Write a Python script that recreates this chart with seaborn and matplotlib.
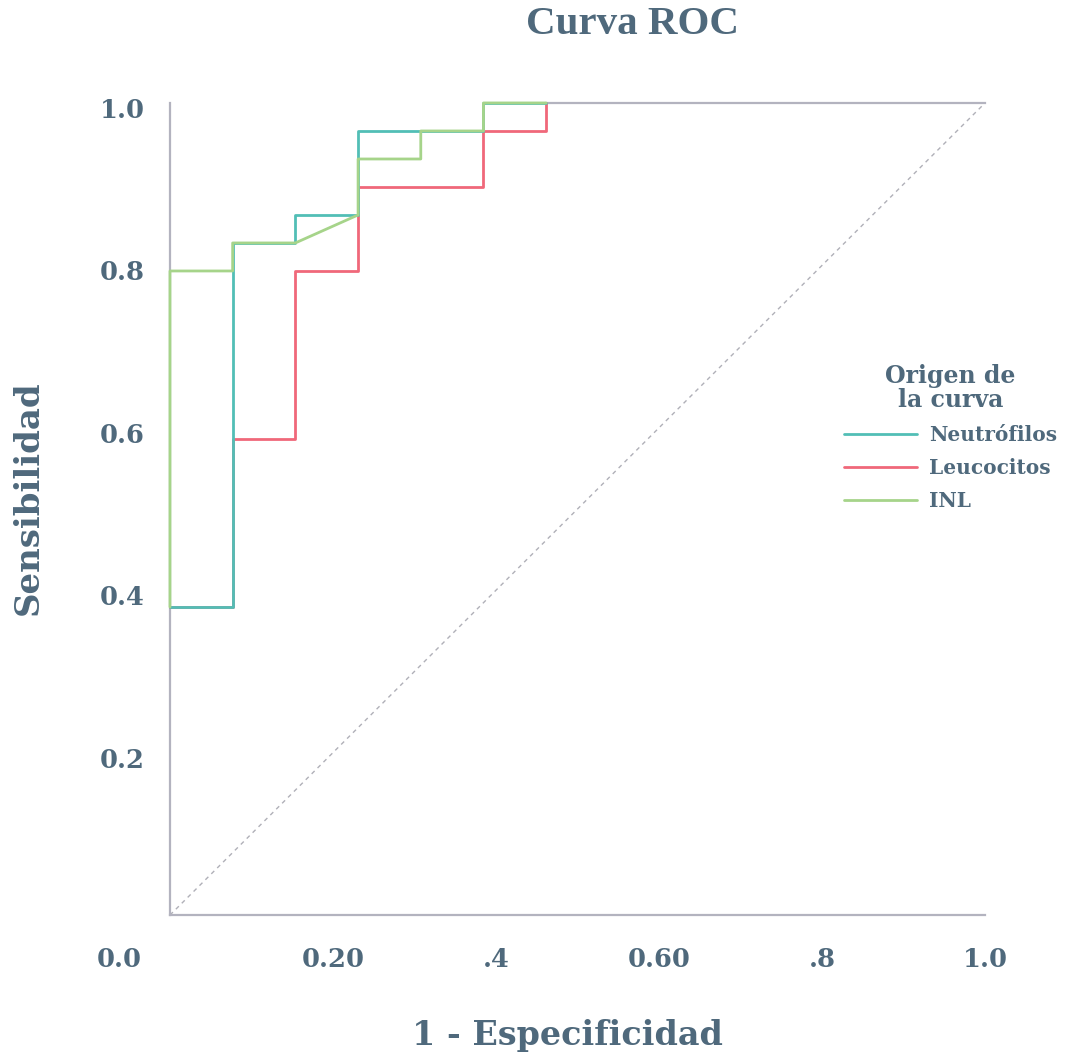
import matplotlib

matplotlib.use("Agg")

import matplotlib.pyplot as plt
import matplotlib.transforms as mtransforms
import pandas as pd
import seaborn as sns

# ROC points (13 negatives, 29 positives)
NEUT_FPR = [0.0, 0.0769, 0.0769, 0.1538, 0.1538, 0.2308, 0.2308, 0.3846, 0.3846, 0.4615]
NEUT_TPR = [0.3793, 0.3793, 0.8276, 0.8276, 0.8621, 0.8621, 0.9655, 0.9655, 1.0, 1.0]

LEUC_FPR = [0.0, 0.0769, 0.0769, 0.1538, 0.1538, 0.2308, 0.2308, 0.3846, 0.3846, 0.4615, 0.4615]
LEUC_TPR = [0.3793, 0.3793, 0.5862, 0.5862, 0.7931, 0.7931, 0.8966, 0.8966, 0.9655, 0.9655, 1.0]

INL_FPR = [0.0, 0.0, 0.0769, 0.0769, 0.1538, 0.2308, 0.2308, 0.3077, 0.3077, 0.3846, 0.3846, 0.4615]
INL_TPR = [0.3793, 0.7931, 0.7931, 0.8276, 0.8276, 0.8621, 0.931, 0.931, 0.9655, 0.9655, 1.0, 1.0]

SERIES = ["Neutrófilos", "Leucocitos", "INL"]
PALETTE = {"Neutrófilos": "#52beb6", "Leucocitos": "#f0687a", "INL": "#a6d48a"}
DRAW_ORDER = {"Leucocitos": 2, "Neutrófilos": 3, "INL": 4}

X_TICKS = [0.0, 0.2, 0.4, 0.6, 0.8, 1.0]
X_TICK_LABELS = ["0.0", "0.20", ".4", "0.60", ".8", "1.0"]
Y_TICKS = [0.2, 0.4, 0.6, 0.8, 1.0]
Y_TICK_LABELS = ["0.2", "0.4", "0.6", "0.8", "1.0"]
TOP_LINE_START = 0.4615

TEXT_COLOR = "#4f697c"
AXIS_COLOR = "#b3b3bf"
SERIF = ["DejaVu Serif"]

frames = []
for name, fpr, tpr in zip(SERIES, [NEUT_FPR, LEUC_FPR, INL_FPR], [NEUT_TPR, LEUC_TPR, INL_TPR]):
    frames.append(pd.DataFrame({"fpr": fpr, "tpr": tpr, "curva": name}))
roc = pd.concat(frames, ignore_index=True)

sns.set_theme(style="white")
plt.rcParams["font.family"] = SERIF

fig = plt.figure(figsize=(10.67, 10.57), dpi=100)
ax = fig.add_axes([0.1593, 0.1343, 0.9232 - 0.1593, 0.9026 - 0.1343])

ax.plot([0, 1], [0, 1], linestyle=(0, (3, 3)), color="#b0b0b8", linewidth=1.0, zorder=1)

sns.lineplot(
    data=roc, x="fpr", y="tpr", hue="curva", hue_order=SERIES, palette=PALETTE,
    estimator=None, sort=False, linewidth=2.0, ax=ax,
)
for line, name in zip(ax.lines[1:], SERIES):
    line.set_zorder(DRAW_ORDER[name])
    line.set_clip_on(False)

ax.set_xlim(0, 1)
ax.set_ylim(0, 1)
ax.spines["right"].set_visible(False)
for side in ["left", "bottom", "top"]:
    ax.spines[side].set_color(AXIS_COLOR)
    ax.spines[side].set_linewidth(1.6)
    ax.spines[side].set_zorder(1.5)
ax.spines["top"].set_bounds(TOP_LINE_START, 1.0)

ax.set_xticks(X_TICKS)
ax.set_xticklabels(X_TICK_LABELS)
ax.set_yticks(Y_TICKS)
ax.set_yticklabels(Y_TICK_LABELS)
ax.tick_params(axis="x", length=0, pad=23, labelsize=18.5, labelcolor=TEXT_COLOR)
ax.tick_params(axis="y", length=0, pad=18, labelsize=18.5, labelcolor=TEXT_COLOR)
for lab in ax.get_xticklabels() + ax.get_yticklabels():
    lab.set_fontweight("bold")
first = ax.get_xticklabels()[0]
first.set_transform(first.get_transform() + mtransforms.ScaledTranslation(-0.51, 0, fig.dpi_scale_trans))
for lab in ax.get_yticklabels():
    lab.set_transform(lab.get_transform() + mtransforms.ScaledTranslation(0, -0.05, fig.dpi_scale_trans))

ax.set_xlabel("")
ax.set_ylabel("")
fig.text(567 / 1067, 1 - 1035 / 1057, "1 - Especificidad", ha="center", va="center",
         fontsize=24, fontweight="bold", color=TEXT_COLOR)
fig.text(28 / 1067, 1 - 498 / 1057, "Sensibilidad", ha="center", va="center", rotation=90,
         fontsize=24.5, fontweight="bold", color=TEXT_COLOR)
fig.text(632 / 1067, 1 - 25 / 1057, "Curva ROC", ha="center", va="center",
         fontsize=29.5, fontweight="bold", color=TEXT_COLOR, family=["Liberation Serif"])

handles, labels = ax.get_legend_handles_labels()
leg = ax.legend(
    handles, labels, title="Origen de\nla curva", frameon=False,
    loc="upper left", bbox_to_anchor=(826 / 1067, 1 - 346 / 1057), bbox_transform=fig.transFigure,
    handlelength=3.6, handletextpad=0.6, labelspacing=0.65, fontsize=14.5,
)
leg.get_title().set_fontsize(17)
leg.get_title().set_fontweight("bold")
leg.get_title().set_color(TEXT_COLOR)
leg.get_title().set_multialignment("center")
leg.get_title().set_linespacing(1.0)
for txt in leg.get_texts():
    txt.set_color(TEXT_COLOR)
    txt.set_fontweight("bold")
for line in leg.get_lines():
    line.set_linewidth(2.0)

fig.savefig("out.png", dpi=100, facecolor="white")
